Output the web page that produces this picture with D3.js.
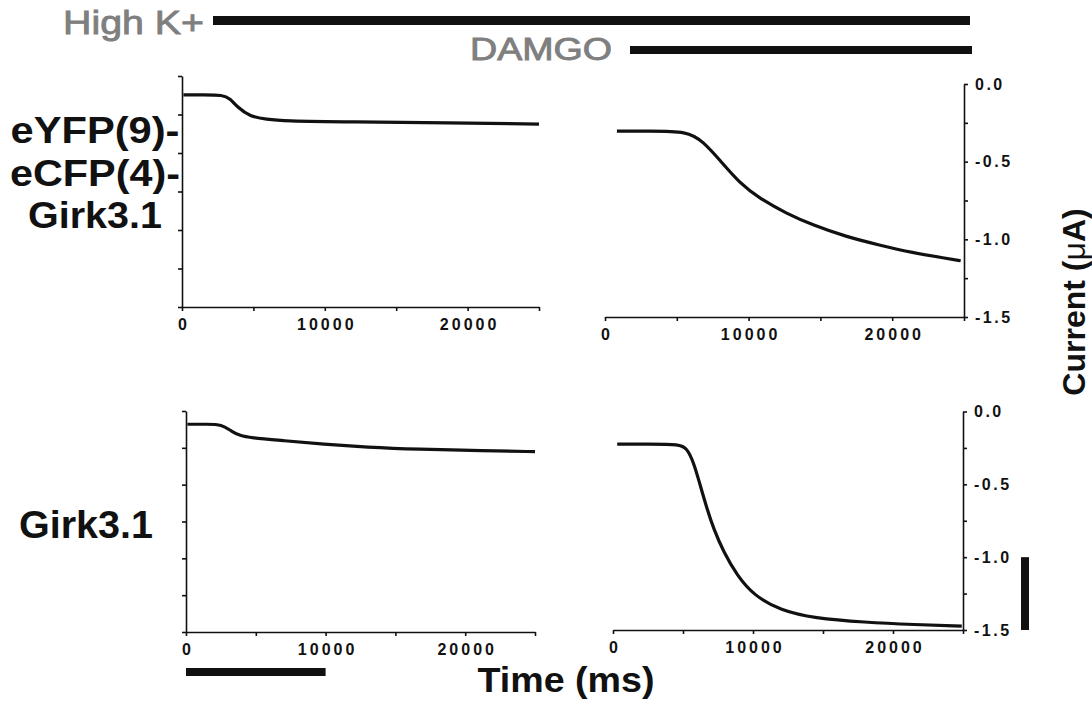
<!DOCTYPE html>
<html>
<head>
<meta charset="utf-8">
<script src="https://cdn.jsdelivr.net/npm/d3@7"></script>
<style>
  html, body { margin: 0; padding: 0; background: #fff; }
  svg { display: block; }
  text { font-family: "Liberation Sans", Arial, Helvetica, sans-serif; }
</style>
</head>
<body>
<div id="chart"></div>
<script>
// ---------------- data ----------------
const timeDomain = [0, 25000];                 // ms
const currentDomain = [0, -1.5];               // µA
const xTicks = [0, 5000, 10000, 15000, 20000, 25000];
const xTickLabels = [0, 10000, 20000];
const yTicks = [0, -0.25, -0.5, -0.75, -1.0, -1.25, -1.5];
const yTickLabels = [0, -0.5, -1.0, -1.5];

const rowLabelsTop = ["eYFP(9)-", "eCFP(4)-", "Girk3.1"];
const rowLabelsBottom = ["Girk3.1"];
const protocolLabels = ["High K+", "DAMGO"];

// eYFP(9)-eCFP(4)-Girk3.1, High K+ alone
const fusionHighK_t = [100, 1500, 2870, 3360, 3850, 4760, 5940, 7060, 11750, 18740, 25000];
const fusionHighK_I = [-0.123, -0.123, -0.123, -0.145, -0.200, -0.264, -0.281, -0.292, -0.299, -0.303, -0.312];
// eYFP(9)-eCFP(4)-Girk3.1, High K+ + DAMGO
const fusionDamgo_t = [830, 3000, 5760, 6830, 7990, 9380, 10760, 12620, 14470, 16780, 19100, 21410, 23730, 24770];
const fusionDamgo_I = [-0.303, -0.303, -0.303, -0.371, -0.489, -0.639, -0.736, -0.833, -0.908, -0.983, -1.037, -1.086, -1.122, -1.138];
// Girk3.1, High K+ alone
const girkHighK_t = [100, 1500, 2560, 3280, 3870, 4590, 6980, 9850, 12960, 16550, 21330, 25000];
const girkHighK_I = [-0.090, -0.090, -0.090, -0.140, -0.167, -0.181, -0.201, -0.226, -0.246, -0.260, -0.269, -0.276];
// Girk3.1, High K+ + DAMGO
const girkDamgo_t = [300, 2500, 4790, 5270, 5750, 6230, 6710, 7180, 7900, 8860, 10060, 11970, 14370, 17960, 21550, 24910];
const girkDamgo_I = [-0.224, -0.224, -0.224, -0.253, -0.345, -0.506, -0.666, -0.804, -0.965, -1.125, -1.263, -1.366, -1.419, -1.447, -1.463, -1.474];

// scale bars
const scaleBarTime = [0, 10000];      // ms
const scaleBarCurrent = [-1.0, -1.5]; // µA

// ---------------- drawing ----------------
const W = 1092, H = 702;
const svg = d3.select("#chart").append("svg")
  .attr("width", W).attr("height", H)
  .attr("viewBox", `0 0 ${W} ${H}`);

const INK = "#111";
const GREY = "#7f7f7f";

const panels = [
  { t: fusionHighK_t, I: fusionHighK_I, xr: [182, 539], yr: [76, 307], side: "left" },
  { t: fusionDamgo_t, I: fusionDamgo_I, xr: [605, 964], yr: [84, 317], side: "right" },
  { t: girkHighK_t,  I: girkHighK_I,  xr: [186, 535], yr: [411, 632], side: "left" },
  { t: girkDamgo_t,  I: girkDamgo_I,  xr: [613, 963], yr: [411.5, 630], side: "right" }
];

const fmtX = d => xTickLabels.includes(d) ? String(d) : "";
const fmtY = d => yTickLabels.some(v => Math.abs(v - d) < 1e-9) ? d.toFixed(1) : "";

panels.forEach(p => {
  p.x = d3.scaleLinear().domain(timeDomain).range(p.xr);
  p.y = d3.scaleLinear().domain(currentDomain).range(p.yr);
  const g = svg.append("g");

  // x axis
  const gx = g.append("g")
    .attr("transform", `translate(0,${p.yr[1]})`)
    .call(d3.axisBottom(p.x).tickValues(xTicks).tickSize(4).tickSizeOuter(0)
      .tickPadding(8).tickFormat(fmtX));
  gx.selectAll("text")
    .attr("fill", INK)
    .attr("font-size", 16).attr("font-weight", "bold")
    .style("letter-spacing", "3px").attr("dx", "1.5");

  // y axis
  if (p.side === "left") {
    g.append("g")
      .attr("transform", `translate(${p.xr[0]},0)`)
      .call(d3.axisLeft(p.y).tickValues(yTicks).tickSize(4).tickSizeOuter(0).tickFormat(""));
  } else {
    const gy = g.append("g")
      .attr("transform", `translate(${p.xr[1]},0)`)
      .call(d3.axisRight(p.y).tickValues(yTicks).tickSize(4).tickSizeOuter(0)
        .tickPadding(7).tickFormat(fmtY));
    gy.selectAll("text")
      .attr("fill", INK)
      .attr("font-size", 16).attr("font-weight", "bold")
      .style("letter-spacing", "2.5px");
  }

  g.selectAll(".domain, .tick line").attr("stroke", INK).attr("stroke-width", 1.6);

  // trace
  const pts = p.t.map((t, i) => [t, p.I[i]]);
  g.append("path")
    .datum(pts)
    .attr("fill", "none")
    .attr("stroke", INK)
    .attr("stroke-width", 3.2)
    .attr("stroke-linejoin", "round")
    .attr("stroke-linecap", "butt")
    .attr("d", d3.line().x(d => p.x(d[0])).y(d => p.y(d[1])).curve(d3.curveBasis));
});

// protocol bars and labels
svg.append("text").text(protocolLabels[0])
  .attr("x", 63).attr("y", 34)
  .attr("font-size", 34).attr("fill", GREY)
  .attr("stroke", GREY).attr("stroke-width", 0.9)
  .attr("textLength", 141).attr("lengthAdjust", "spacingAndGlyphs");
svg.append("rect").attr("x", 213).attr("y", 16).attr("width", 970 - 213).attr("height", 9).attr("fill", INK);

svg.append("text").text(protocolLabels[1])
  .attr("x", 470).attr("y", 60)
  .attr("font-size", 32).attr("fill", GREY)
  .attr("stroke", GREY).attr("stroke-width", 0.9)
  .attr("textLength", 142).attr("lengthAdjust", "spacingAndGlyphs");
svg.append("rect").attr("x", 630).attr("y", 46).attr("width", 972 - 630).attr("height", 8).attr("fill", INK);

// row labels
const topBaselines = [143, 186, 228];
const topWidths = [169, 170, 134];
rowLabelsTop.forEach((s, i) => {
  svg.append("text").text(s)
    .attr("x", 95).attr("y", topBaselines[i])
    .attr("text-anchor", "middle")
    .attr("font-size", 37).attr("font-weight", "bold").attr("fill", INK)
    .attr("textLength", topWidths[i]).attr("lengthAdjust", "spacingAndGlyphs");
});
svg.append("text").text(rowLabelsBottom[0])
  .attr("x", 86).attr("y", 538)
  .attr("text-anchor", "middle")
  .attr("font-size", 38).attr("font-weight", "bold").attr("fill", INK)
  .attr("textLength", 134).attr("lengthAdjust", "spacingAndGlyphs");

// axis titles
svg.append("text").text("Time (ms)")
  .attr("x", 566).attr("y", 692)
  .attr("text-anchor", "middle")
  .attr("font-size", 35).attr("font-weight", "bold").attr("fill", INK)
  .attr("textLength", 177).attr("lengthAdjust", "spacingAndGlyphs");

const cur = svg.append("text")
  .attr("transform", "translate(1085,302) rotate(-90)")
  .attr("text-anchor", "middle")
  .attr("font-size", 32).attr("font-weight", "bold").attr("fill", INK);
cur.append("tspan").text("Current (");
cur.append("tspan").text("\u03BC").attr("font-weight", "normal");
cur.append("tspan").text("A)");

// scale bars
const pBL = panels[2], pBR = panels[3];
svg.append("rect")
  .attr("x", pBL.x(scaleBarTime[0])).attr("y", 668)
  .attr("width", pBL.x(scaleBarTime[1]) - pBL.x(scaleBarTime[0])).attr("height", 8)
  .attr("fill", INK);
svg.append("rect")
  .attr("x", 1021).attr("y", pBR.y(scaleBarCurrent[0]))
  .attr("width", 8).attr("height", pBR.y(scaleBarCurrent[1]) - pBR.y(scaleBarCurrent[0]))
  .attr("fill", INK);
</script>
</body>
</html>
